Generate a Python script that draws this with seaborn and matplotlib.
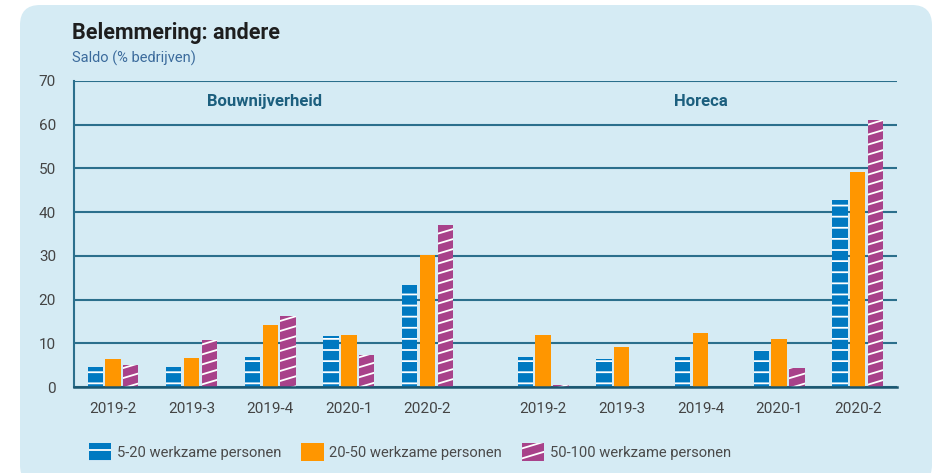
import warnings
import numpy as np
import pandas as pd
import matplotlib
matplotlib.use("Agg")
import matplotlib.pyplot as plt
import seaborn as sns
from matplotlib import hatch as mhatch
from matplotlib.path import Path
from matplotlib.patches import Patch, FancyBboxPatch
from matplotlib.transforms import IdentityTransform

warnings.filterwarnings("ignore")

# data
periods = ["2019-2", "2019-3", "2019-4", "2020-1", "2020-2"]
sectors = ["Bouwnijverheid", "Horeca"]
sizes = ["5-20 werkzame personen", "20-50 werkzame personen", "50-100 werkzame personen"]

bouw_small = [4.6, 4.5, 6.9, 11.7, 23.3]
bouw_mid = [6.3, 6.7, 14.2, 11.9, 30.2]
bouw_large = [5.0, 10.8, 16.3, 7.3, 37.1]
horeca_small = [6.9, 6.4, 6.9, 8.5, 42.8]
horeca_mid = [11.9, 9.2, 12.3, 11.0, 49.2]
horeca_large = [0.4, 0.0, 0.0, 4.4, 61.0]

colors = ["#0079c1", "#ff9600", "#a8428a"]
bg = "#d5ebf4"
teal = "#2b6f8c"


# custom hatches: flat white stripes and shallow slanted stripes
class _LineHatch(mhatch.HatchPatternBase):
    char, per_inch, rise = "", 0, 0

    def __init__(self, hatch, density):
        self.n = hatch.count(self.char) * self.per_inch if self.char else 0
        self.num_lines = self.n + self.rise if self.n else 0
        self.num_vertices = self.num_lines * 2

    def set_vertices_and_codes(self, vertices, codes):
        k = np.arange(-self.rise, self.n) + 0.5
        vertices[0::2, 0] = 0.0
        vertices[0::2, 1] = k / self.n
        vertices[1::2, 0] = 1.0
        vertices[1::2, 1] = (k + self.rise) / self.n
        codes[0::2] = Path.MOVETO
        codes[1::2] = Path.LINETO


class FlatHatch(_LineHatch):
    char, per_inch, rise = "q", 9, 0


class SlopeHatch(_LineHatch):
    char, per_inch, rise = "z", 10, 3


mhatch._hatch_types.extend([FlatHatch, SlopeHatch])
hatches = ["q", None, "z"]

# long table
table = {"Bouwnijverheid": [bouw_small, bouw_mid, bouw_large],
         "Horeca": [horeca_small, horeca_mid, horeca_large]}
gap_between = 1.47
rows = []
for si, sector in enumerate(sectors):
    for size, vals in zip(sizes, table[sector]):
        for pi, (per, v) in enumerate(zip(periods, vals)):
            rows.append({"pos": si * (len(periods) - 1 + gap_between) + pi,
                         "sector": sector, "period": per, "size": size, "value": v})
df = pd.DataFrame(rows)

sns.set_style("white")
plt.rcParams["font.family"] = ["Roboto", "DejaVu Sans"]
plt.rcParams["hatch.linewidth"] = 1.3

fig = plt.figure(figsize=(9.37, 4.73), dpi=100)
fig.patch.set_facecolor("white")
card = FancyBboxPatch((20, -12), 912, 480, boxstyle="round,pad=0,rounding_size=20",
                      transform=IdentityTransform(), facecolor=bg, edgecolor="none", zorder=-10)
fig.add_artist(card)

ax = fig.add_axes([74 / 937, 86 / 473, (897 - 74) / 937, (387 - 81) / 473])
ax.set_facecolor(bg)
ax.patch.set_alpha(0)

sns.barplot(data=df, x="pos", y="value", hue="size", hue_order=sizes,
            palette=colors, native_scale=True, errorbar=None, width=0.68,
            gap=0.14, saturation=1, legend=False, ax=ax)

for cont, h in zip(ax.containers, hatches):
    for bar in cont:
        bar.set_linewidth(0)
        if h:
            bar.set_hatch(h)
            bar.set_edgecolor("white")

ax.set_ylim(0, 70)
ax.set_yticks(range(0, 71, 10))
ax.set_xlim(-0.496, 9.97)
tick_pos = sorted(df["pos"].unique())
ax.set_xticks(tick_pos, periods * len(sectors))
ax.set_xlabel("")
ax.set_ylabel("")
ax.set_axisbelow(True)
ax.yaxis.grid(True, color=teal, linewidth=1.5)
ax.tick_params(axis="both", length=0, labelsize=11, labelcolor="#444444")
ax.tick_params(axis="y", pad=13)
ax.tick_params(axis="x", pad=11)
for side in ["right", "top"]:
    ax.spines[side].set_visible(False)
ax.spines["left"].set_color(teal)
ax.spines["left"].set_linewidth(1.5)
ax.spines["bottom"].set_color("#1b5670")
ax.spines["bottom"].set_linewidth(1.8)

label_shift = [-0.07, 0.0]
for sector, shift in zip(sectors, label_shift):
    xs = df.loc[df["sector"] == sector, "pos"]
    ax.text(xs.mean() + shift, 65.4, sector, ha="center", va="center", fontsize=12,
            fontweight="bold", color="#1c5f7e")

fig.text(72 / 937, 1 - 33 / 473, "Belemmering: andere", fontsize=15.5, fontweight="bold",
         color="#1e1e1e", va="center", ha="left")
fig.text(72 / 937, 1 - 58 / 473, "Saldo (% bedrijven)", fontsize=10.5,
         color="#3b6b9c", va="center", ha="left")

handles = [Patch(facecolor=c, hatch=h, edgecolor="white", linewidth=0)
           for c, h in zip(colors, hatches)]
fig.legend(handles, sizes, loc="center left", bbox_to_anchor=(76 / 937, 1 - 452 / 473),
           ncol=3, frameon=False, fontsize=10.6, handlelength=1.5, handleheight=1.5,
           handletextpad=0.4, columnspacing=1.35, labelcolor="#4a4a4a")

fig.savefig("out.png", dpi=100, facecolor=fig.get_facecolor())
